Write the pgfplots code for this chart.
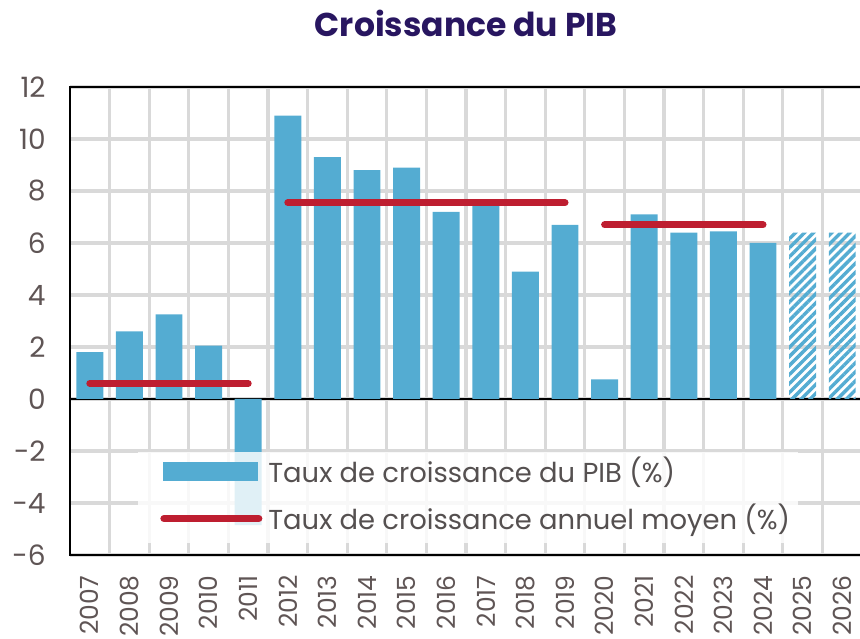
\documentclass[border=0pt]{standalone}
\usepackage{fontspec}
\setmainfont{Poppins}
\usepackage{pgfplots}
\pgfplotsset{compat=1.18}
\usetikzlibrary{patterns.meta}
\definecolor{barblue}{RGB}{84,172,210}
\definecolor{avgred}{RGB}{190,30,48}
\definecolor{titlecol}{RGB}{40,22,96}
\definecolor{gridgray}{RGB}{217,217,217}
\definecolor{tickcol}{RGB}{95,85,85}
\definecolor{legtext}{RGB}{85,80,80}
\begin{document}
\begin{tikzpicture}
\begin{axis}[
  name=ax,
  scale only axis, width=396pt, height=234pt,
  xmin=-0.5, xmax=19.5, ymin=-6, ymax=12,
  xtick={0,...,19},
  xticklabels={2007,2008,2009,2010,2011,2012,2013,2014,2015,2016,2017,2018,2019,2020,2021,2022,2023,2024,2025,2026},
  minor xtick={0.5,1.5,...,18.5},
  xminorgrids,
  ytick={-6,-4,...,12},
  ymajorgrids,
  major tick length=0pt, minor tick length=0pt,
  major grid style={gridgray, line width=1.6pt},
  minor grid style={gridgray, line width=1.6pt},
  axis line style={black, line width=0.9pt},
  extra y ticks={0}, extra y tick labels={},
  extra y tick style={grid=major, major grid style={black, line width=0.9pt}},
  /pgf/number format/assume math mode=true,
  tick label style={font=\fontsize{12.5}{13}\selectfont, text=tickcol},
  xticklabel style={rotate=90, anchor=east, inner sep=0pt},
  xticklabel shift=10pt,
  yticklabel style={inner sep=0pt, anchor=east, font=\fontsize{14}{15}\selectfont},
  yticklabel shift=12pt,
  title={Croissance du PIB},
  title style={at={(0.5,1)}, anchor=center, yshift=26pt, font=\fontsize{16.5}{19}\selectfont\bfseries, text=titlecol},
  legend cell align=left,
  legend style={draw=none, fill=none, at={(0.1136,0.1282)}, anchor=west,
    font=\fontsize{13.7}{15}\selectfont, text=legtext, row sep=9.3pt, column sep=3pt,
    inner sep=0pt, nodes={inner sep=0pt}},
]
\addplot[ybar, bar width=0.68, bar shift=0pt, fill=barblue, draw=none,
  legend image code/.code={\fill[barblue] (1.5pt,-4.75pt) rectangle (49pt,4.75pt);}]
  coordinates {(0,1.8) (1,2.6) (2,3.25) (3,2.05) (4,-4.85) (5,10.9) (6,9.3) (7,8.8) (8,8.9) (9,7.2)
  (10,7.45) (11,4.9) (12,6.7) (13,0.75) (14,7.1) (15,6.4) (16,6.45) (17,6.0)};
\addlegendentry{Taux de croissance du PIB (\%)}
\addplot[ybar, bar width=0.68, bar shift=0pt, draw=none, forget plot,
  pattern={Lines[angle=45,distance=3.2pt,line width=1.7pt]}, pattern color=barblue]
  coordinates {(18,6.4) (19,6.4)};
\addplot[avgred, line width=3.5pt, line cap=round, mark=none,
  legend image code/.code={\draw[avgred, line width=3.5pt, line cap=round] (1.75pt,0pt) -- (49.25pt,0pt);}]
  coordinates {(0,0.6) (4,0.6)};
\addlegendentry{Taux de croissance annuel moyen (\%)}
\addplot[avgred, line width=3.5pt, line cap=round, mark=none, forget plot]
  coordinates {(5,7.55) (12,7.55)};
\addplot[avgred, line width=3.5pt, line cap=round, mark=none, forget plot]
  coordinates {(13,6.7) (17,6.7)};
\fill[white, opacity=0.82] (rel axis cs:0.0859,0.0256) rectangle (rel axis cs:0.9192,0.2201);
\end{axis}
\pgfresetboundingbox
\useasboundingbox ([shift={(-35pt,-42pt)}]ax.south west) rectangle ([shift={(395pt,43.5pt)}]ax.north west);
\end{tikzpicture}
\end{document}
